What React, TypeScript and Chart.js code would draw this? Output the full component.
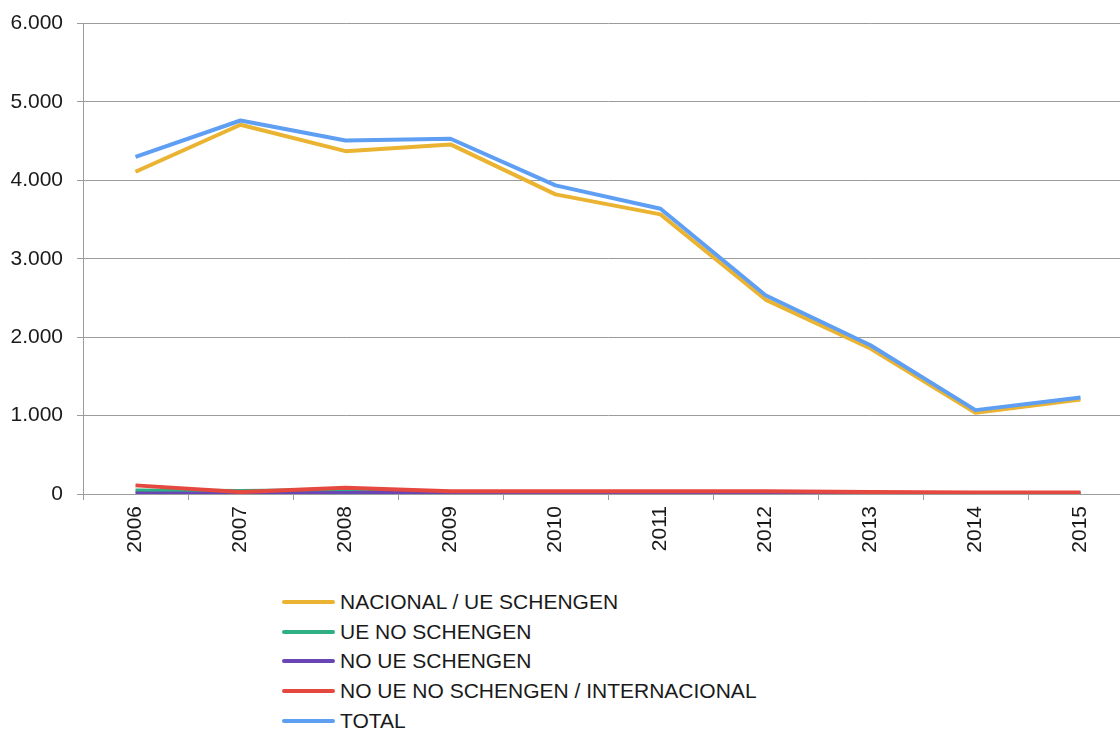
import React, { useEffect, useRef } from "react";
import { Chart, registerables } from "chart.js";

Chart.register(...registerables);

const years = ["2006", "2007", "2008", "2009", "2010", "2011", "2012", "2013", "2014", "2015"];
const nacionalUeSchengen = [4110, 4710, 4373, 4459, 3822, 3567, 2480, 1856, 1036, 1206];
const ueNoSchengen = [45, 38, 50, 5, 10, 12, 5, 5, 5, 5];
const noUeSchengen = [5, 2, 12, 25, 10, 8, 5, 5, 3, 3];
const noUeNoSchengen = [110, 25, 80, 35, 35, 35, 35, 25, 20, 20];
const total = [4300, 4764, 4510, 4531, 3936, 3639, 2535, 1898, 1070, 1232];

const seriesLabels = [
  "NACIONAL / UE SCHENGEN",
  "UE NO SCHENGEN",
  "NO UE SCHENGEN",
  "NO UE NO SCHENGEN / INTERNACIONAL",
  "TOTAL",
];
const seriesColors = ["#EAB331", "#2EAF84", "#6A45B6", "#E4483F", "#5E9FF4"];
const seriesValues = [nacionalUeSchengen, ueNoSchengen, noUeSchengen, noUeNoSchengen, total];

const yMin = 0;
const yMax = 6000;
const yStep = 1000;

const FONT = "'Liberation Sans', Arial, Helvetica, sans-serif";
const GRID = "#9c9c9c";
const TEXT = "#1a1a1a";

function fmt(v: number): string {
  return String(Math.round(v)).replace(/\B(?=(\d{3})+(?!\d))/g, ".");
}

export default function App() {
  const canvasRef = useRef<HTMLCanvasElement | null>(null);

  useEffect(() => {
    if (!canvasRef.current) return;
    const n = seriesValues.length;
    const chart = new Chart(canvasRef.current, {
      type: "line",
      data: {
        labels: years,
        datasets: seriesValues.map((vals, i) => ({
          label: seriesLabels[i],
          data: vals,
          borderColor: seriesColors[i],
          backgroundColor: seriesColors[i],
          borderWidth: 4,
          pointRadius: 0,
          pointHoverRadius: 0,
          tension: 0,
          fill: false,
          borderCapStyle: "butt" as const,
          borderJoinStyle: "round" as const,
          order: n - i,
        })),
      },
      options: {
        responsive: false,
        animation: false,
        events: [],
        layout: { padding: { top: 20, right: 7, left: 0, bottom: 0 } },
        plugins: {
          legend: { display: false },
          tooltip: { enabled: false },
          title: { display: false },
        },
        scales: {
          x: {
            offset: true,
            grid: {
              offset: true,
              drawOnChartArea: false,
              drawTicks: true,
              tickLength: 6,
              color: GRID,
              lineWidth: 1,
            },
            border: { display: true, color: GRID, width: 1 },
            ticks: {
              autoSkip: false,
              maxRotation: 90,
              minRotation: 90,
              padding: 6,
              color: TEXT,
              font: { family: FONT, size: 21 },
            },
            afterFit: (s: any) => {
              s.height = 76;
            },
          },
          y: {
            min: yMin,
            max: yMax,
            grid: {
              drawOnChartArea: true,
              drawTicks: true,
              tickLength: 6,
              color: GRID,
              lineWidth: 1,
            },
            border: { display: true, color: GRID, width: 1 },
            ticks: {
              stepSize: yStep,
              padding: 14,
              color: TEXT,
              font: { family: FONT, size: 21 },
              callback: (v: any) => fmt(Number(v)),
            },
            afterFit: (s: any) => {
              s.width = 83;
            },
          },
        },
      },
    });
    return () => chart.destroy();
  }, []);

  return (
    <div
      style={{
        position: "fixed",
        left: 0,
        top: 0,
        width: 1120,
        height: 731,
        overflow: "hidden",
        background: "#ffffff",
      }}
    >
      <canvas ref={canvasRef} width={1140} height={573} style={{ display: "block", marginTop: -3 }} />
      <div style={{ position: "absolute", left: 282, top: 587, fontFamily: FONT, fontSize: 21, color: TEXT }}>
        {seriesLabels.map((lab, i) => (
          <div key={lab} style={{ display: "flex", alignItems: "center", height: 29.75 }}>
            <span
              style={{
                display: "inline-block",
                width: 53,
                height: 4,
                borderRadius: 2,
                background: seriesColors[i],
                marginRight: 5,
              }}
            />
            <span style={{ lineHeight: "24px", whiteSpace: "nowrap" }}>{lab}</span>
          </div>
        ))}
      </div>
    </div>
  );
}
